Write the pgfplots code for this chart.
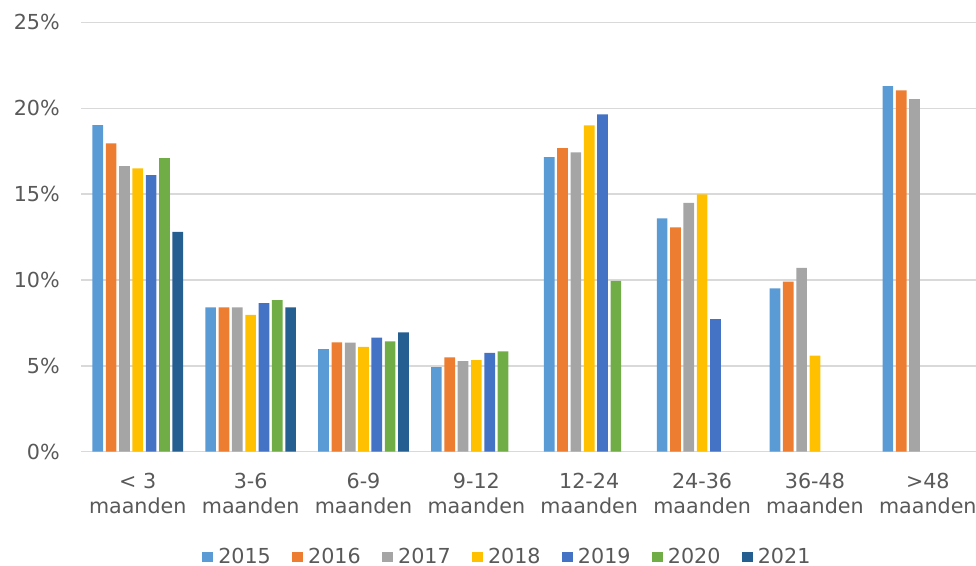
\documentclass[border=0pt]{standalone}
\usepackage{fontspec}
\setmainfont{DejaVu Sans}
\usepackage{pgfplots}
\pgfplotsset{compat=1.18}
\definecolor{c15}{HTML}{5B9BD5}
\definecolor{c16}{HTML}{ED7D31}
\definecolor{c17}{HTML}{A5A5A5}
\definecolor{c18}{HTML}{FFC000}
\definecolor{c19}{HTML}{4472C4}
\definecolor{c20}{HTML}{70AD47}
\definecolor{c21}{HTML}{255E91}
\definecolor{txt}{HTML}{595959}
\definecolor{grd}{HTML}{D9D9D9}
\begin{document}
\fontsize{15.5}{18.75}\selectfont
\begin{tikzpicture}
\begin{axis}[
  name=ax,
  scale only axis,
  width=677.2pt, height=322.05pt,
  xmin=-0.5, xmax=7.5, ymin=0, ymax=25,
  ytick={0,5,10,15,20,25},
  yticklabel={\pgfmathprintnumber{\tick}\%},
  /pgf/number format/assume math mode=true,
  xtick={0,1,2,3,4,5,6,7},
  xticklabels={{< 3\\maanden},{3-6\\maanden},{6-9\\maanden},{9-12\\maanden},{12-24\\maanden},{24-36\\maanden},{36-48\\maanden},{>48\\maanden}},
  xticklabel style={align=center, text=txt, inner sep=0pt, anchor=north, yshift=-16pt},
  yticklabel style={text=txt, inner sep=0pt, anchor=east, xshift=-16pt},
  ymajorgrids, grid style={grd, line width=1pt},
  axis line style={draw=none},
  major tick length=0pt,
  ybar, bar width=0.0945,
  legend columns=7,
  legend style={draw=none, fill=none, text=txt, at={(0.4722,-0.2450)}, anchor=center,
    /tikz/every even column/.append style={column sep=14pt}},
  legend image code/.code={\fill[#1] (0pt,-4pt) rectangle (8pt,4pt); \path (10pt,0pt);},
]
\addplot[fill=c15, draw=none, bar shift=-0.3543] coordinates {(0,19.02) (1,8.40) (2,5.98) (3,4.93) (4,17.15) (5,13.58) (6,9.51) (7,21.29)};
\addplot[fill=c16, draw=none, bar shift=-0.2362] coordinates {(0,17.95) (1,8.40) (2,6.37) (3,5.49) (4,17.68) (5,13.06) (6,9.90) (7,21.04)};
\addplot[fill=c17, draw=none, bar shift=-0.1181] coordinates {(0,16.63) (1,8.40) (2,6.35) (3,5.28) (4,17.43) (5,14.49) (6,10.71) (7,20.53)};
\addplot[fill=c18, draw=none, bar shift=0] coordinates {(0,16.50) (1,7.97) (2,6.11) (3,5.34) (4,19.00) (5,14.98) (6,5.59)};
\addplot[fill=c19, draw=none, bar shift=0.1181] coordinates {(0,16.10) (1,8.65) (2,6.64) (3,5.76) (4,19.64) (5,7.72)};
\addplot[fill=c20, draw=none, bar shift=0.2362] coordinates {(0,17.10) (1,8.83) (2,6.43) (3,5.84) (4,9.95)};
\addplot[fill=c21, draw=none, bar shift=0.3543] coordinates {(0,12.80) (1,8.40) (2,6.95)};
\legend{2015,2016,2017,2018,2019,2020,2021}
\end{axis}
\pgfresetboundingbox
\path[use as bounding box] ([xshift=-61pt,yshift=-85.7pt]ax.south west) rectangle ([xshift=671pt,yshift=338.8pt]ax.south west);
\end{tikzpicture}
\end{document}
